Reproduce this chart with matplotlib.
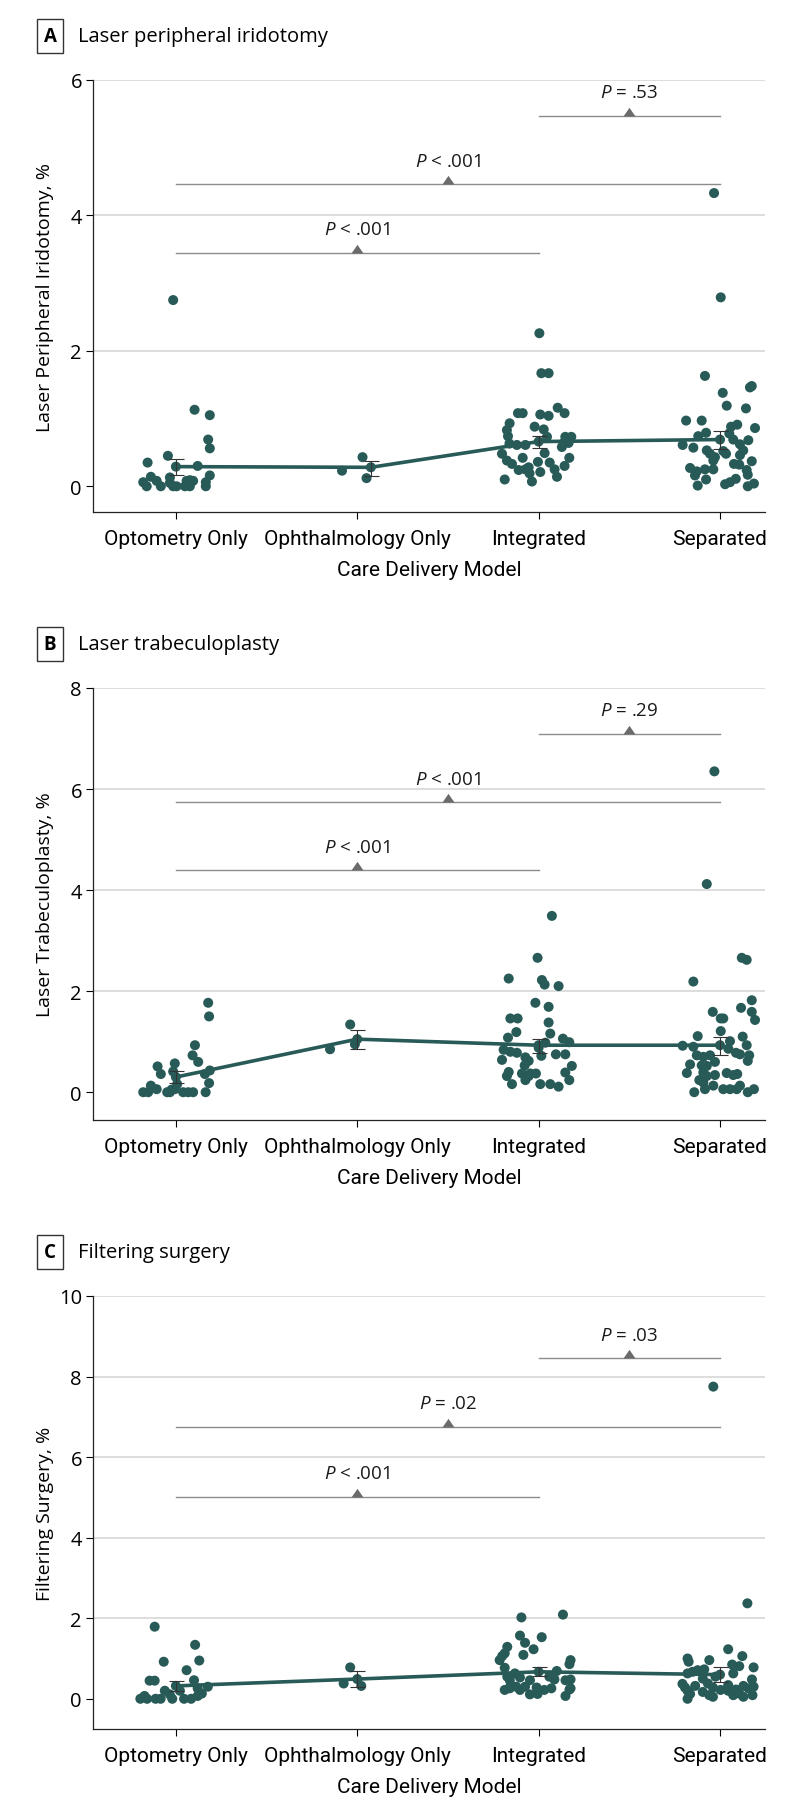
import matplotlib
matplotlib.use('Agg')
import matplotlib.pyplot as plt
import numpy as np
from matplotlib.path import Path

plt.rcParams['font.family'] = ['Open Sans', 'DejaVu Sans']
plt.rcParams['mathtext.fontset'] = 'custom'
plt.rcParams['mathtext.it'] = 'Open Sans:italic'
plt.rcParams['mathtext.rm'] = 'Open Sans'

groups = ['Optometry Only', 'Ophthalmology Only', 'Integrated', 'Separated']

# (rate %, horizontal jitter) for each practice
# A: laser peripheral iridotomy
lpi_opt = [(2.75, -0.015), (1.13, 0.103), (1.05, 0.187), (0.69, 0.178), (0.56, 0.187),
           (0.35, -0.156), (0.45, -0.044), (0.30, 0.12), (0.16, 0.187), (0.06, -0.18),
           (0.0, -0.161), (0.14, -0.138), (0.08, -0.106), (0.0, -0.083), (0.13, -0.033),
           (0.05, -0.033), (0.0, -0.015), (0.0, 0.004), (0.08, 0.059), (0.09, 0.077),
           (0.08, 0.095), (0.0, 0.05), (0.0, 0.077), (0.06, 0.165), (0.0, 0.165)]
lpi_oph = [(0.23, -0.084), (0.43, 0.029), (0.12, 0.051)]
lpi_int = [(2.26, 0.004), (1.67, 0.015), (1.67, 0.055), (1.08, -0.114), (1.08, -0.088),
           (1.06, 0.009), (1.04, 0.055), (1.16, 0.105), (1.08, 0.143), (0.93, -0.16),
           (0.83, -0.175), (0.88, -0.022), (0.84, 0.028), (0.74, -0.169), (0.73, 0.147),
           (0.73, 0.18), (0.73, 0.046), (0.63, -0.161), (0.61, -0.12), (0.61, -0.073),
           (0.64, 0.138), (0.64, 0.165), (0.58, 0.128), (0.48, -0.202), (0.49, 0.033),
           (0.42, -0.088), (0.38, -0.175), (0.42, 0.169), (0.33, -0.147), (0.36, -0.004),
           (0.35, 0.061), (0.28, -0.055), (0.25, -0.073), (0.24, -0.11), (0.30, 0.143),
           (0.25, 0.088), (0.21, 0.009), (0.19, -0.05), (0.14, 0.101), (0.10, -0.187),
           (0.07, -0.037)]
lpi_sep = [(4.33, -0.033), (2.79, 0.004), (1.63, -0.083), (1.46, 0.165), (1.48, 0.175),
           (1.38, 0.015), (1.19, 0.037), (1.15, 0.143), (0.97, -0.187), (0.97, -0.101),
           (0.91, 0.095), (0.88, 0.061), (0.86, 0.193), (0.79, -0.077), (0.78, 0.051),
           (0.74, -0.12), (0.68, 0.156), (0.69, 0.073), (0.61, -0.206), (0.57, -0.147),
           (0.62, 0.11), (0.53, 0.128), (0.53, -0.073), (0.48, -0.055), (0.52, 0.018),
           (0.48, 0.033), (0.43, -0.028), (0.46, 0.11), (0.38, -0.037), (0.37, 0.175),
           (0.33, 0.077), (0.32, 0.106), (0.27, -0.165), (0.25, -0.037), (0.24, 0.147),
           (0.22, -0.128), (0.25, -0.083), (0.16, -0.138), (0.17, 0.153), (0.10, -0.077),
           (0.11, 0.087), (0.06, 0.055), (0.03, 0.028), (0.01, -0.123), (0.04, 0.187),
           (0.0, 0.153)]
lpi_mean = [0.29, 0.28, 0.66, 0.69]
lpi_lo = [0.16, 0.15, 0.57, 0.55]
lpi_hi = [0.41, 0.38, 0.74, 0.81]
lpi_mean_dx = [0.0, 0.075, 0.0, 0.0]
lpi_tests = [(0, 2, 3.45, '<', '.001'), (0, 3, 4.46, '<', '.001'), (2, 3, 5.47, '=', '.53')]

# B: laser trabeculoplasty
lt_opt = [(1.77, 0.178), (1.50, 0.183), (0.93, 0.105), (0.73, 0.092), (0.60, 0.123),
          (0.51, -0.101), (0.57, -0.006), (0.36, -0.083), (0.41, -0.015), (0.43, 0.187),
          (0.36, 0.16), (0.18, 0.183), (0.13, -0.138), (0.06, -0.106), (0.0, -0.18),
          (0.0, -0.153), (0.0, -0.033), (0.06, -0.006), (0.0, -0.048), (0.0, 0.04),
          (0.0, 0.068), (0.0, 0.095), (0.0, 0.164), (0.16, 0.007), (0.05, -0.024)]
lt_oph = [(1.34, -0.039), (0.85, -0.15), (0.95, -0.013)]
lt_int = [(3.49, 0.073), (2.66, -0.006), (2.25, -0.165), (2.22, 0.018), (2.13, 0.033),
          (2.10, 0.11), (1.77, -0.018), (1.69, 0.055), (1.46, -0.156), (1.46, -0.116),
          (1.38, 0.055), (1.19, -0.123), (1.16, 0.064), (1.08, -0.169), (1.06, 0.134),
          (0.99, 0.169), (0.88, 0.0), (0.98, 0.037), (0.84, -0.193), (0.80, -0.156),
          (0.78, -0.12), (0.75, 0.095), (0.75, 0.147), (0.64, -0.202), (0.69, -0.073),
          (0.62, -0.055), (0.72, 0.015), (0.53, -0.077), (0.52, 0.183), (0.39, 0.147),
          (0.40, -0.165), (0.32, -0.175), (0.37, -0.092), (0.37, -0.046), (0.37, -0.015),
          (0.24, 0.169), (0.16, -0.147), (0.24, -0.073), (0.16, 0.009), (0.16, 0.064),
          (0.11, 0.11), (0.32, -0.055)]
lt_sep = [(6.35, -0.031), (4.12, -0.073), (2.66, 0.12), (2.62, 0.147), (2.19, -0.147),
          (1.82, 0.175), (1.67, 0.116), (1.59, -0.04), (1.46, 0.004), (1.46, 0.018),
          (1.59, 0.175), (1.43, 0.193), (1.21, 0.004), (1.11, -0.123), (1.10, 0.125),
          (1.01, 0.055), (0.93, 0.147), (0.92, -0.206), (0.90, -0.147), (0.86, 0.046),
          (0.78, 0.088), (0.75, 0.11), (0.73, 0.161), (0.73, -0.128), (0.70, -0.092),
          (0.73, -0.055), (0.62, 0.153), (0.60, -0.028), (0.55, -0.165), (0.53, -0.101),
          (0.52, -0.073), (0.38, -0.183), (0.39, -0.092), (0.32, -0.073), (0.34, -0.028),
          (0.38, 0.037), (0.34, 0.073), (0.36, 0.095), (0.24, -0.114), (0.19, -0.092),
          (0.13, -0.037), (0.06, 0.018), (0.06, 0.055), (0.13, 0.11), (0.06, 0.092),
          (0.0, 0.153), (0.06, 0.187), (0.0, -0.142), (0.06, -0.083)]
lt_mean = [0.30, 1.05, 0.93, 0.93]
lt_lo = [0.19, 0.86, 0.78, 0.73]
lt_hi = [0.42, 1.23, 1.06, 1.09]
lt_mean_dx = [0.0, 0.0, 0.0, 0.0]
lt_tests = [(0, 2, 4.39, '<', '.001'), (0, 3, 5.74, '<', '.001'), (2, 3, 7.09, '=', '.29')]

# C: filtering surgery
fs_opt = [(1.79, -0.117), (1.34, 0.106), (0.92, -0.067), (0.95, 0.129), (0.71, 0.059),
          (0.45, -0.145), (0.45, -0.117), (0.46, 0.10), (0.30, 0.176), (0.20, -0.061),
          (0.20, 0.022), (0.26, 0.12), (0.13, 0.143), (0.0, -0.196), (0.0, -0.159),
          (0.0, -0.112), (0.0, -0.084), (0.07, -0.173), (0.0, -0.02), (0.0, 0.045),
          (0.0, 0.084), (0.07, 0.12), (0.11, -0.034)]
fs_oph = [(0.78, -0.039), (0.38, -0.075), (0.32, 0.022)]
fs_int = [(2.02, -0.095), (2.09, 0.134), (1.57, -0.103), (1.53, 0.017), (1.39, -0.075),
          (1.29, -0.173), (1.13, -0.187), (1.23, -0.028), (1.06, -0.201), (0.96, -0.215),
          (1.09, -0.084), (0.96, 0.176), (0.77, -0.187), (0.69, 0.10), (0.86, 0.17),
          (0.63, -0.131), (0.53, -0.103), (0.55, -0.173), (0.46, -0.159), (0.55, 0.059),
          (0.48, 0.087), (0.46, -0.048), (0.46, 0.148), (0.48, 0.176), (0.22, -0.187),
          (0.26, -0.159), (0.30, -0.075), (0.22, -0.103), (0.28, -0.011), (0.22, 0.031),
          (0.26, 0.07), (0.23, 0.17), (0.12, -0.006), (0.11, -0.048), (0.07, 0.148),
          (0.26, 0.176), (0.34, -0.154), (0.30, -0.123)]
fs_sep = [(7.75, -0.037), (2.37, 0.151), (1.23, 0.045), (1.06, 0.123), (1.00, -0.179),
          (0.92, -0.173), (0.96, -0.059), (0.85, 0.067), (0.81, 0.106), (0.78, 0.185),
          (0.71, -0.123), (0.73, -0.087), (0.63, -0.179), (0.67, -0.151), (0.55, -0.025),
          (0.63, 0.073), (0.50, -0.095), (0.48, 0.176), (0.37, -0.207), (0.28, -0.193),
          (0.32, -0.137), (0.38, -0.067), (0.28, -0.039), (0.34, 0.045), (0.23, 0.087),
          (0.32, 0.129), (0.26, 0.157), (0.30, 0.185), (0.20, -0.179), (0.12, -0.165),
          (0.17, -0.095), (0.09, -0.059), (0.22, 0.003), (0.20, 0.045), (0.13, 0.106),
          (0.09, 0.179), (0.0, -0.179), (0.05, -0.039), (0.09, 0.073), (0.05, 0.129)]
fs_mean = [0.32, 0.49, 0.67, 0.60]
fs_lo = [0.20, 0.30, 0.56, 0.41]
fs_hi = [0.45, 0.68, 0.78, 0.78]
fs_mean_dx = [0.0, 0.0, 0.0, 0.0]
fs_tests = [(0, 2, 5.01, '<', '.001'), (0, 3, 6.75, '=', '.02'), (2, 3, 8.45, '=', '.03')]

DOT = '#285a57'
GRID = '#dadada'
BRACKET = '#8c8c8c'
TRI = Path([(-1, 0), (1, 0), (0, 1.45), (-1, 0)],
           [Path.MOVETO, Path.LINETO, Path.LINETO, Path.CLOSEPOLY])
NARROW = ['Liberation Sans Narrow', 'Roboto', 'DejaVu Sans']

W, H = 794, 1815
fig = plt.figure(figsize=(W / 100, H / 100), dpi=100)


def draw_panel(ax, letter, title, ylabel, cols, means, lo, hi, mean_dx,
               tests, ylim, yticks):
    for i, pts in enumerate(cols):
        v = np.array([p[0] for p in pts])
        dx = np.array([p[1] for p in pts])
        ax.scatter(i + dx, v, s=52, color=DOT, edgecolors='none', zorder=3)

    xm = np.arange(4) + np.array(mean_dx)
    means = np.array(means)
    ax.plot(xm, means, color=DOT, lw=2.6, zorder=2)
    ax.scatter(xm, means, s=52, color=DOT, edgecolors='none', zorder=3)
    ax.errorbar(xm, means, yerr=[means - np.array(lo), np.array(hi) - means],
                fmt='none', ecolor='#333333', elinewidth=0.8, capsize=5.4,
                capthick=0.8, zorder=4)

    for a, b, y, op, p in tests:
        ax.plot([a, b], [y, y], color=BRACKET, lw=1.0, zorder=2)
        ax.plot((a + b) / 2, y, marker=TRI, markersize=12.5, color='#6b6b6b',
                markeredgewidth=0, zorder=3)
        ax.annotate(r'$P$' + f' {op} {p}', xy=((a + b) / 2, y), xytext=(0, 17),
                    textcoords='offset points', ha='center', va='center',
                    fontsize=13.5, color='#1a1a1a')

    for t in yticks:
        if t > 0:
            ax.axhline(t, color=GRID, lw=1.3, zorder=0)

    ax.set_xlim(-0.457, 3.248)
    ax.set_ylim(*ylim)
    ax.set_yticks(yticks)
    ax.set_xticks(range(4))
    ax.set_xticklabels(groups, fontfamily=NARROW, fontsize=15)
    ax.tick_params(axis='y', labelsize=14.5, length=5, width=0.8, pad=3)
    ax.tick_params(axis='x', length=5, width=0.8, pad=7)
    for s in ('top', 'right'):
        ax.spines[s].set_visible(False)
    for s in ('left', 'bottom'):
        ax.spines[s].set_linewidth(0.9)
        ax.spines[s].set_color('#222222')
    ax.set_xlabel('Care Delivery Model', fontfamily=NARROW, fontsize=15,
                  labelpad=9)
    ax.set_ylabel(ylabel, fontsize=14)
    ax.yaxis.set_label_coords(-0.058, 0.5)

    top = ax.get_position().y1 + 44 / H
    fig.text(50 / W, top, letter, ha='center', va='center', fontsize=13.5,
             fontweight='bold',
             bbox=dict(boxstyle='square,pad=0.35', fc='white', ec='#333333', lw=1))
    fig.text(78 / W, top, title, ha='left', va='center', fontsize=14.5)


left = 93 / W
width = (765 - 93) / W
h = 432 / H
ax_a = fig.add_axes([left, 1 - 513 / H, width, h])
ax_b = fig.add_axes([left, 1 - 1121 / H, width, h])
ax_c = fig.add_axes([left, 1 - 1730 / H, width, 433 / H])

draw_panel(ax_a, 'A', 'Laser peripheral iridotomy', 'Laser Peripheral Iridotomy, %',
           [lpi_opt, lpi_oph, lpi_int, lpi_sep], lpi_mean, lpi_lo, lpi_hi,
           lpi_mean_dx, lpi_tests, (-0.38, 6), [0, 2, 4, 6])
draw_panel(ax_b, 'B', 'Laser trabeculoplasty', 'Laser Trabeculoplasty, %',
           [lt_opt, lt_oph, lt_int, lt_sep], lt_mean, lt_lo, lt_hi,
           lt_mean_dx, lt_tests, (-0.55, 8), [0, 2, 4, 6, 8])
draw_panel(ax_c, 'C', 'Filtering surgery', 'Filtering Surgery, %',
           [fs_opt, fs_oph, fs_int, fs_sep], fs_mean, fs_lo, fs_hi,
           fs_mean_dx, fs_tests, (-0.75, 10), [0, 2, 4, 6, 8, 10])

fig.savefig('out.png', dpi=100)
